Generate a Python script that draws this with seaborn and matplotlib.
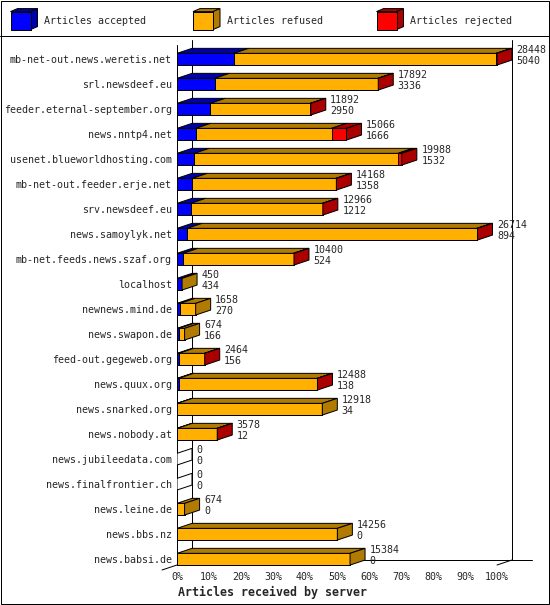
import numpy as np
import pandas as pd
import matplotlib
matplotlib.use("Agg")
import matplotlib.pyplot as plt
from matplotlib.patches import Polygon, Rectangle
import seaborn as sns

# data (offered total / accepted are printed, rejected)
servers = [
    "mb-net-out.news.weretis.net", "srl.newsdeef.eu", "feeder.eternal-september.org",
    "news.nntp4.net", "usenet.blueworldhosting.com", "mb-net-out.feeder.erje.net",
    "srv.newsdeef.eu", "news.samoylyk.net", "mb-net.feeds.news.szaf.org", "localhost",
    "newnews.mind.de", "news.swapon.de", "feed-out.gegeweb.org", "news.quux.org",
    "news.snarked.org", "news.nobody.at", "news.jubileedata.com", "news.finalfrontier.ch",
    "news.leine.de", "news.bbs.nz", "news.babsi.de",
]
offered = [28448, 17892, 11892, 15066, 19988, 14168, 12966, 26714, 10400, 450,
           1658, 674, 2464, 12488, 12918, 3578, 0, 0, 674, 14256, 15384]
accepted = [5040, 3336, 2950, 1666, 1532, 1358, 1212, 894, 524, 434,
            270, 166, 156, 138, 34, 12, 0, 0, 0, 0, 0]
rejected = [80, 40, 30, 1330, 350, 40, 30, 60, 30, 0,
            0, 0, 10, 20, 0, 8, 0, 0, 0, 0, 0]
refused = [o - a - r for o, a, r in zip(offered, accepted, rejected)]

BLUE, BLUE_D = "#0000ff", "#0000aa"
ORANGE, ORANGE_D = "#ffb000", "#b07b00"
RED, RED_D = "#ff0000", "#aa0000"

W, H = 550, 605
BAR_H = 0.468
DX = 15 / 3.2      # depth offset in % units
DY = 0.2           # depth offset in category units
LW = 0.72

max_total = max(offered)
df = pd.DataFrame({
    "server": servers,
    "total": np.array(offered) / max_total * 100,
    "acc_ref": (np.array(accepted) + np.array(refused)) / max_total * 100,
    "acc": np.array(accepted) / max_total * 100,
})

sns.set_theme(style="white")
plt.rcParams["font.family"] = ["DejaVu Sans Mono", "DejaVu Sans"]

fig = plt.figure(figsize=(W / 100, H / 100), dpi=100)

# frame, legend strip
lax = fig.add_axes([0, 0, 1, 1])
lax.set_xlim(0, W)
lax.set_ylim(H, 0)
lax.axis("off")
lax.add_patch(Rectangle((0.5, 0.5), W - 1.5, H - 1.5, fill=False, ec="black", lw=LW))
lax.plot([0, W], [35.5, 35.5], color="black", lw=LW)
legend_items = [(10.5, BLUE, BLUE_D, "Articles accepted"),
                (193, ORANGE, ORANGE_D, "Articles refused"),
                (376.5, RED, RED_D, "Articles rejected")]
for lx, c, cd, lab in legend_items:
    top, bot = 11.6, 29.6
    lax.add_patch(Polygon([(lx, top), (lx + 20, top), (lx + 27, top - 3), (lx + 7, top - 3)],
                          fc=cd, ec="black", lw=LW))
    lax.add_patch(Polygon([(lx + 20, top), (lx + 20, bot), (lx + 27, bot - 3), (lx + 27, top - 3)],
                          fc=cd, ec="black", lw=LW))
    lax.add_patch(Rectangle((lx, top), 20, bot - top, fc=c, ec="black", lw=LW))
    lax.text(lx + 34, 21, lab, fontsize=7.2, va="center", ha="left")

# main chart
ax = fig.add_axes([177 / W, 1 - 570 / H, (545 - 177) / W, (570 - 36) / H])
ax.set_facecolor("none")
for col, c in [("total", RED), ("acc_ref", ORANGE), ("acc", BLUE)]:
    sns.barplot(data=df, x=col, y="server", color=c, saturation=1, width=BAR_H,
                edgecolor="black", linewidth=LW, errorbar=None, ax=ax, zorder=2)

ax.set_xlim(0, (545 - 177) / 3.2)
ax.set_ylim((570 - 59.2) / 25, (36 - 59.2) / 25)
front_top, front_bot = (45 - 59.2) / 25, (565 - 59.2) / 25
back_top, back_bot = front_top - DY, front_bot - DY

# walls and floor
ax.plot([0, 0], [front_top, front_bot], color="black", lw=LW, zorder=1.5)
ax.plot([DX, DX], [back_top, back_bot], color="black", lw=LW, zorder=0.5)
ax.plot([100 + DX, 100 + DX], [back_top, back_bot], color="black", lw=LW, zorder=0.5)
ax.plot([DX, (532 - 177) / 3.2], [back_bot, back_bot], color="black", lw=LW, zorder=0.5)
ax.plot([100, 100 + DX], [front_bot, back_bot], color="black", lw=LW, zorder=0.5)
ax.plot([0, -DX], [front_bot, front_bot + DY], color="black", lw=LW, zorder=0.5, clip_on=False)

# 3d top and side faces
for i, row in df.iterrows():
    yt, yb = i - BAR_H / 2, i + BAR_H / 2
    segs = [(0, row["acc"], BLUE_D), (row["acc"], row["acc_ref"], ORANGE_D),
            (row["acc_ref"], row["total"], RED_D)]
    side_c = "white"
    for x0, x1, cd in segs:
        if x1 - x0 > 1e-9:
            ax.add_patch(Polygon([(x0, yt), (x1, yt), (x1 + DX, yt - DY), (x0 + DX, yt - DY)],
                                 fc=cd, ec="black", lw=LW, zorder=2.5))
            side_c = cd
    xe = row["total"]
    ax.add_patch(Polygon([(xe, yt), (xe, yb), (xe + DX, yb - DY), (xe + DX, yt - DY)],
                         fc=side_c, ec="black", lw=LW, zorder=2.5))
    ax.text(xe + DX + 1.4, i - 0.16, f"{offered[i]}\n{accepted[i]}", fontsize=7.2,
            va="center", ha="left", linespacing=1.12, zorder=4)

ax.set_xticks(range(0, 101, 10))
ax.set_xticklabels([f"{v}%" for v in range(0, 101, 10)], fontsize=7.2)
ax.set_yticks(range(len(servers)))
ax.set_yticklabels(servers, fontsize=7.2)
ax.tick_params(axis="x", length=0, pad=1.5)
ax.tick_params(axis="y", length=0, pad=3.6)
ax.set_xlabel("")
ax.set_ylabel("")
for s in ax.spines.values():
    s.set_visible(False)

fig.text(178 / W, 1 - 592 / H, "Articles received by server", fontsize=8.4,
         fontweight="bold", va="center", ha="left")

fig.savefig("out.png", dpi=100)
